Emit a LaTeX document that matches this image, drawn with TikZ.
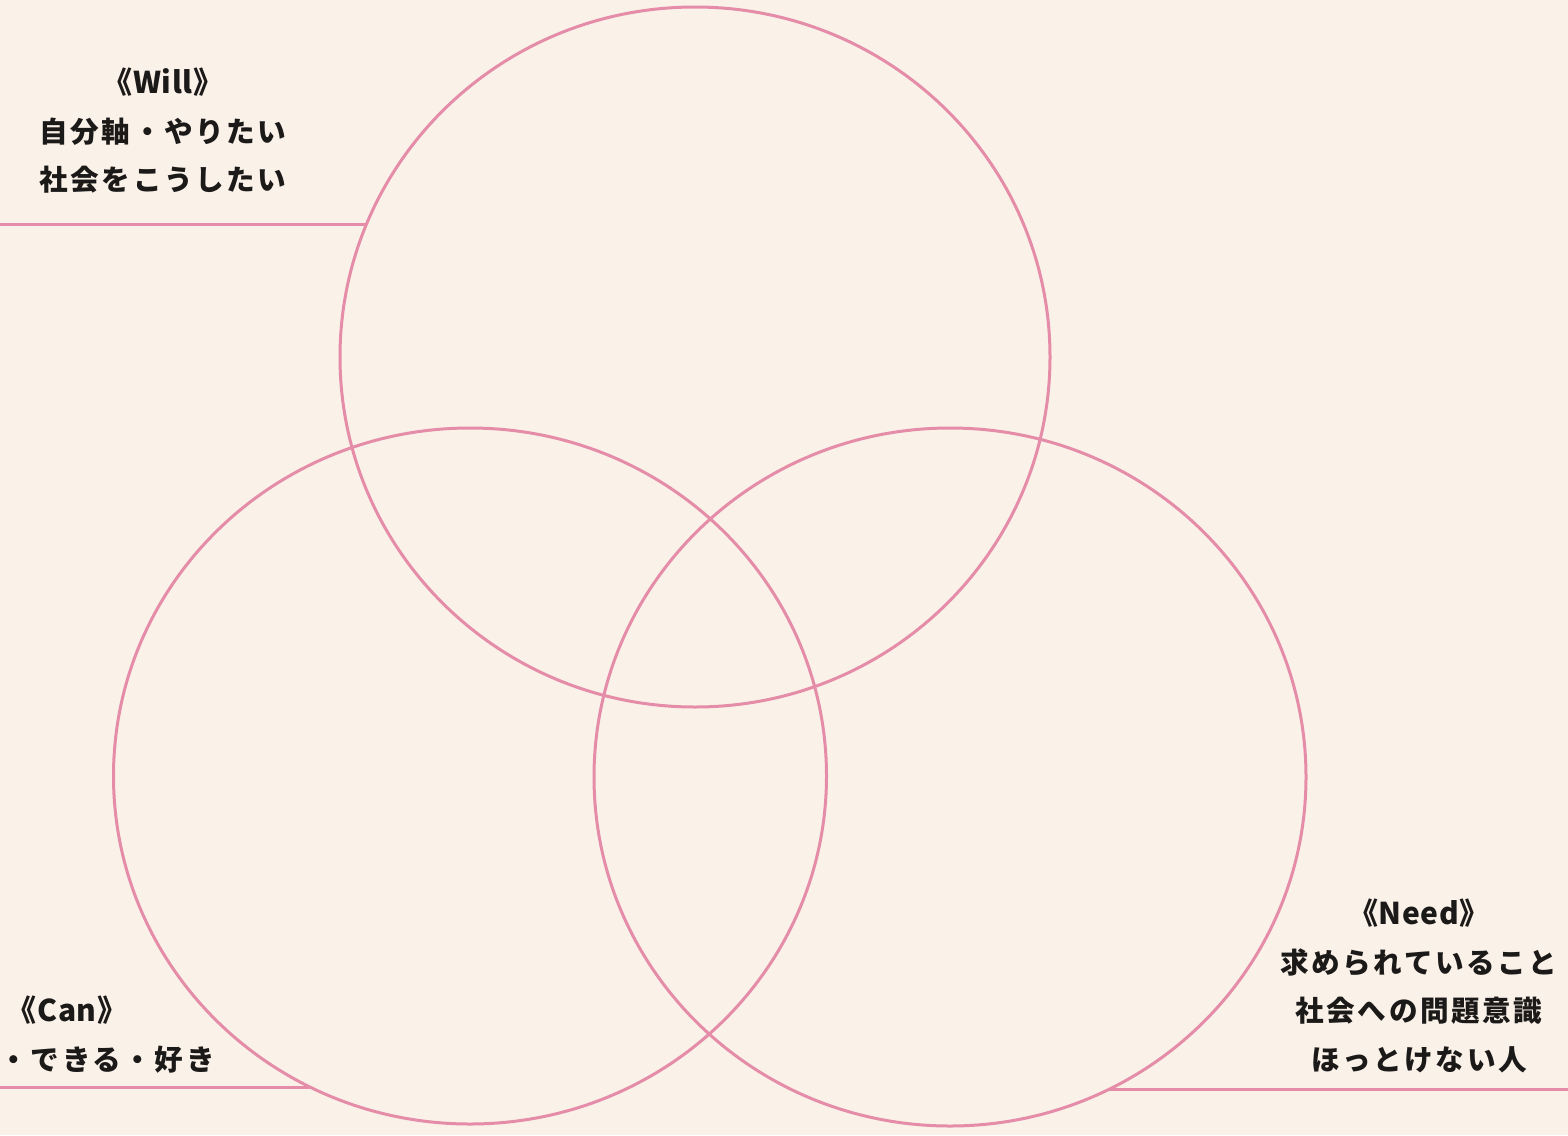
\documentclass[tikz,border=0pt]{standalone}
\usepackage{fontspec}
\setmainfont{Noto Sans CJK JP}[LetterSpace=9]
\newfontfamily\hdfont{Noto Sans CJK JP}[LetterSpace=2]
\usetikzlibrary{shapes.geometric}
\definecolor{bg}{HTML}{FAF1E9}
\definecolor{ringc}{HTML}{E58CA8}
\definecolor{ink}{HTML}{1C1A19}
\begin{document}
\begin{tikzpicture}[x=1pt,y=-1pt,
  ring/.style={draw=ringc, line width=3pt, ellipse, inner sep=0pt, outer sep=0pt},
  link/.style={draw=ringc, line width=2.8pt},
  lbl/.style={align=center, font=\fontsize{28.6}{48.5}\selectfont\bfseries, text=ink, inner sep=0pt}]
\fill[bg] (0,0) rectangle (1568,1135);
\useasboundingbox (0,0) rectangle (1568,1135);
\clip (0,0) rectangle (1568,1135);
\coordinate (leftedge) at (0,0);
\coordinate (rightedge) at (1568,0);
% circles
\node[ring, minimum width=710pt, minimum height=700pt] (will) at (695,357) {};
\node[ring, minimum width=713pt, minimum height=696pt] (can) at (470,776) {};
\node[ring, minimum width=712pt, minimum height=698pt] (need) at (950,777) {};
% connectors
\draw[link] (will.158.1 -| leftedge) -- (will.158.1);
\draw[link] (can.243 -| leftedge) -- (can.243);
\draw[link] (need.297.5) -- (need.297.5 -| rightedge);
% labels
\node[lbl] (willtxt) at (163,131) {{\hdfont\bfseries\fontsize{30}{48.5}\selectfont 《Will》}\\自分軸・やりたい\\社会をこうしたい};
\node[lbl] (cantitle) at (67,1010) {{\hdfont\bfseries\fontsize{30}{48.5}\selectfont 《Can》}};
\node[lbl, anchor=east] (cantxt) at (215,1060) {・できる・好き};
\node[lbl] (needtxt) at (1419,986) {{\hdfont\bfseries\fontsize{30}{48.5}\selectfont 《Need》}\\求められていること\\社会への問題意識\\ほっとけない人};
\end{tikzpicture}
\end{document}
